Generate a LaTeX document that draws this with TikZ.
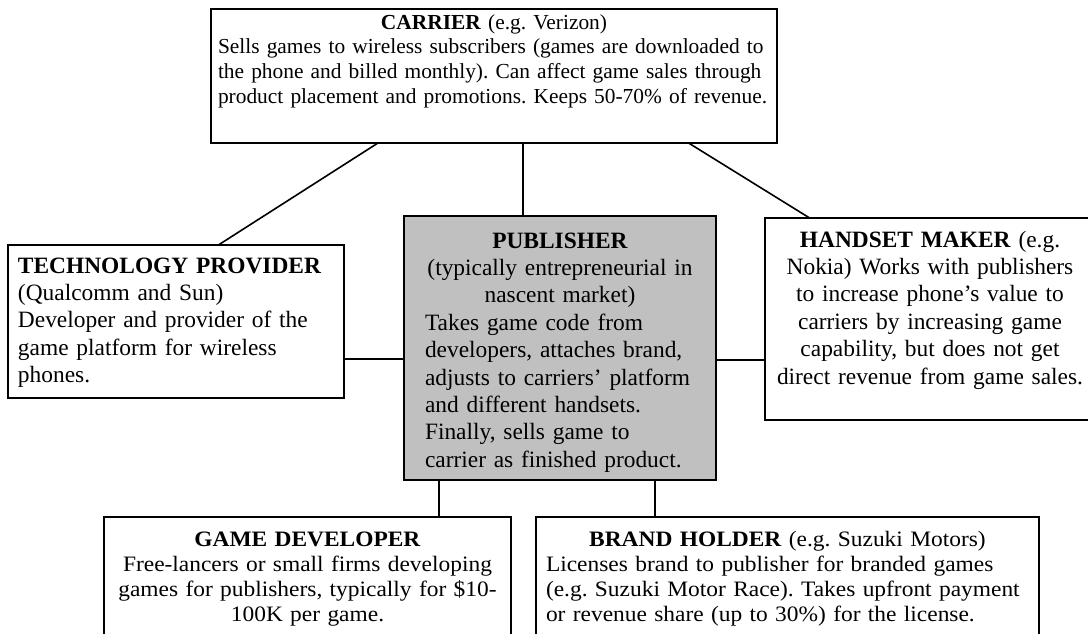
\documentclass[tikz,border=0pt]{standalone}
\usepackage{fontspec}
\setmainfont{Liberation Serif}
\newfontfamily\wideserif[FakeStretch=1.065]{Liberation Serif}
\usetikzlibrary{calc}
\definecolor{pubgray}{RGB}{192,192,192}
\frenchspacing
\hyphenpenalty=10000

\begin{document}
\begin{tikzpicture}
  [x=0.5pt,y=-0.5pt,every node/.style={draw,line width=1pt,anchor=north west,outer sep=0pt,inner ysep=0pt,align=left,font=\fontsize{11.7}{13.7}\selectfont},link/.style={line width=0.8pt}]

  \useasboundingbox (0,0) rectangle (1088,633);

  \node (carrier) at (211,9) [inner xsep=3.5pt,text width=276pt,text height=10pt,text depth=57pt,font=\fontsize{10.7}{12.35}\selectfont]
    {\makebox[\linewidth]{\textbf{CARRIER} (e.g. Verizon)}\\
     Sells games to wireless subscribers (games are downloaded to\\
     the phone and billed monthly). Can affect game sales through\\
     product placement and promotions. Keeps 50-70\% of revenue.};
  \node (tech) at (8,245) [inner xsep=5pt,text width=158pt,text height=14pt,text depth=62.5pt]
    {\textbf{TECHNOLOGY PROVIDER}\\
     (Qualcomm and Sun)\\
     Developer and provider of the\\
     game platform for wireless\\
     phones.};
  \node (pub) at (404,216) [fill=pubgray,inner xsep=10.5pt,text width=135pt,text height=16pt,text depth=116pt]
    {\makebox[\linewidth]{\textbf{PUBLISHER}}\\
     \makebox[\linewidth]{(typically entrepreneurial in}\\
     \makebox[\linewidth]{nascent market)}\\
     Takes game code from\\
     developers, attaches brand,\\
     adjusts to carriers’ platform\\
     and different handsets.\\
     Finally, sells game to\\
     carrier as finished product.};
  \node (hand) at (765,218) [align=center,inner xsep=4pt,text width=157pt,text height=14.5pt,text depth=86.5pt]
    {\textbf{HANDSET MAKER} (e.g.\\
     Nokia) Works with publishers\\
     to increase phone’s value to\\
     carriers by increasing game\\
     capability, but does not get\\
     direct revenue from game sales.};
  \node (game) at (104,517) [align=center,inner xsep=4pt,text width=195.5pt,text height=14.5pt,text depth=60pt,font=\wideserif\fontsize{11}{12.65}\selectfont]
    {\textbf{GAME DEVELOPER}\\
     Free-lancers or small firms developing\\
     games for publishers, typically for \$10-\\
     100K per game.};
  \node (brand) at (536,517) [inner xsep=5pt,text width=241.5pt,text height=14.5pt,text depth=60pt,font=\wideserif\fontsize{11}{12.65}\selectfont]
    {\makebox[\linewidth]{\textbf{BRAND HOLDER} (e.g. Suzuki Motors)}\\
     Licenses brand to publisher for branded games\\
     (e.g. Suzuki Motor Race). Takes upfront payment\\
     or revenue share (up to 30\%) for the license.};

  \path[link] (carrier.210) edge (tech.61);
  \path[link] (carrier.341) edge (hand.140);
  \draw[link] ($(pub.north)+(-37,0)$) coordinate (cp) -- (cp |- carrier.south);
  \draw[link] ($(pub.west)+(0,11)$) coordinate (tp) -- (tp -| tech.east);
  \draw[link] ($(pub.east)+(0,12)$) coordinate (hp) -- (hp -| hand.west);
  \draw[link] ($(pub.south)+(-121,0)$) coordinate (gp) -- (gp |- game.north);
  \draw[link] ($(pub.south)+(95,0)$) coordinate (bp) -- (bp |- brand.north);

\end{tikzpicture}
\end{document}
